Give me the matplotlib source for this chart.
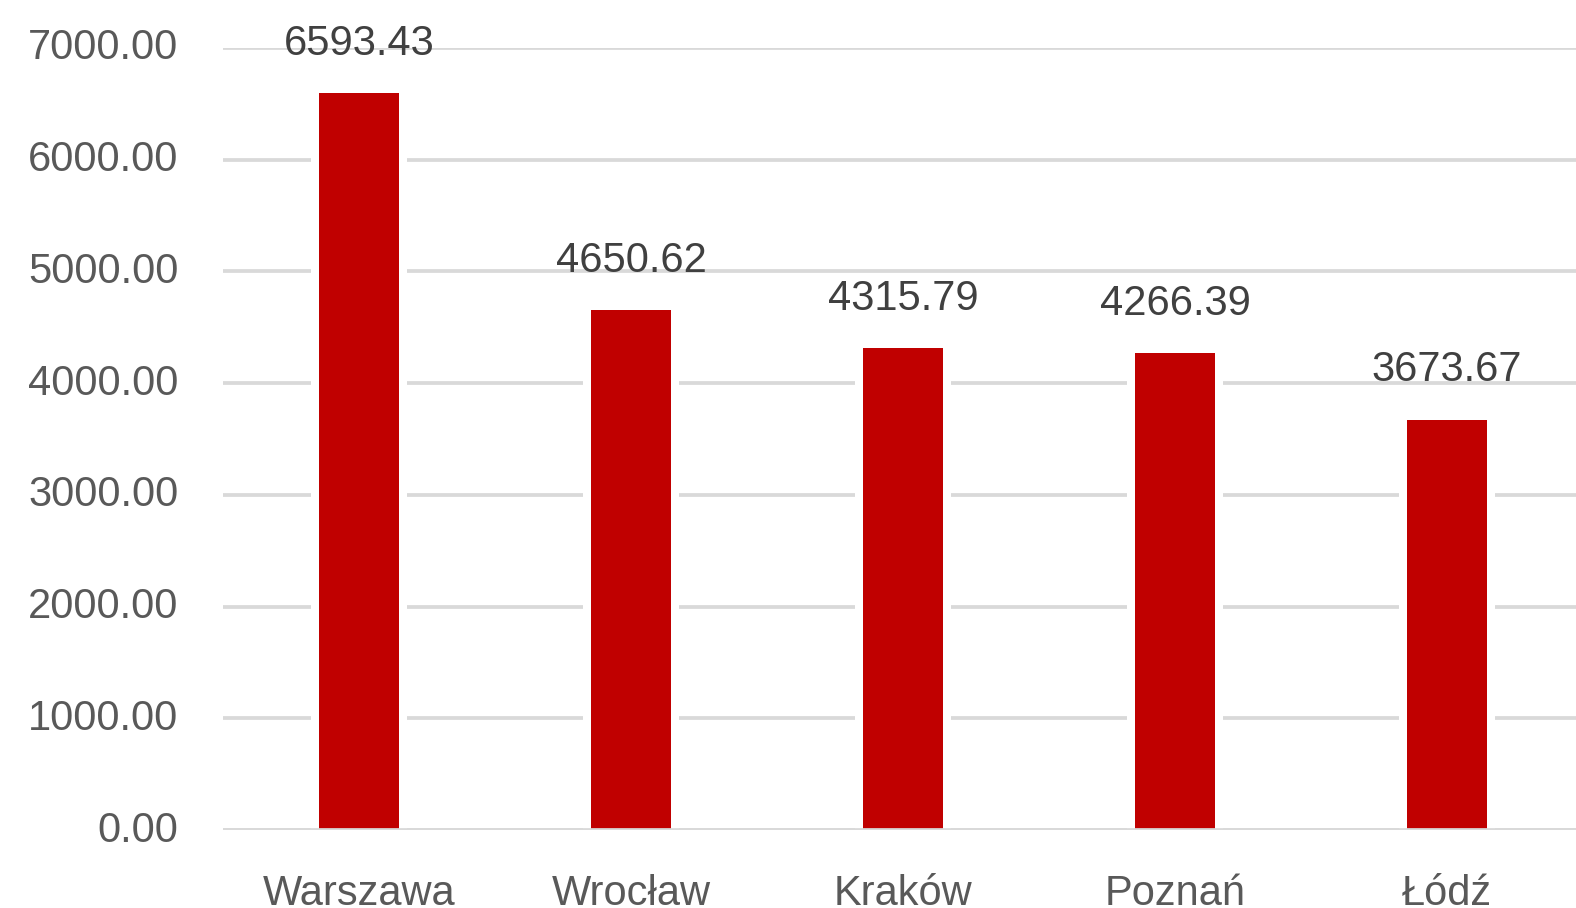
import numpy as np
import matplotlib
matplotlib.use('Agg')
import matplotlib.pyplot as plt
import matplotlib.transforms as mtransforms

cities = ['Warszawa', 'Wrocław', 'Kraków', 'Poznań', 'Łódź']
values = [6593.43, 4650.62, 4315.79, 4266.39, 3673.67]
yticks = [0, 1000, 2000, 3000, 4000, 5000, 6000, 7000]

bar_color = '#c00000'
grid_color = '#d9d9d9'

plt.rcParams['font.family'] = ['Liberation Sans', 'DejaVu Sans']

fig = plt.figure(figsize=(15.76, 9.08), dpi=100)
ax = fig.add_axes([223/1576, 78/908, 1360/1576, 782/908])

x = np.arange(len(cities))
bw = 80/272
gap = 16/272

# white halo behind bars so gridlines stop short of them
ax.bar(x, values, width=bw + gap, color='white', zorder=2)
ax.bar(x, values, width=bw, color=bar_color, zorder=3)
ax.axhline(0, color=grid_color, lw=2.7, zorder=4)

for xi, v in zip(x, values):
    ax.annotate(f'{v:.2f}', (xi, v), xytext=(0, 27.5), textcoords='offset points',
                ha='center', va='baseline', fontsize=30, color='#404040',
                annotation_clip=False)

ax.set_xlim(-0.5, len(cities) - 0.5)
ax.set_ylim(0, 7000)
ax.set_yticks(yticks)
ax.set_yticklabels([f'{t:.2f}' for t in yticks])
ax.set_xticks(x)
ax.set_xticklabels(cities, va='baseline')

ax.yaxis.grid(True, color=grid_color, lw=2.7, zorder=1)
ax.set_axisbelow(True)
for s in ax.spines.values():
    s.set_visible(False)
ax.tick_params(axis='y', length=0, pad=32, labelsize=30, labelcolor='#595959')
ax.tick_params(axis='x', length=0, pad=54, labelsize=30, labelcolor='#595959')

# nudge y labels up a little, they sit slightly above the gridlines
up = mtransforms.ScaledTranslation(0, 4/100, fig.dpi_scale_trans)
for lbl in ax.get_yticklabels():
    lbl.set_transform(lbl.get_transform() + up)

fig.savefig('out.png', dpi=100)
